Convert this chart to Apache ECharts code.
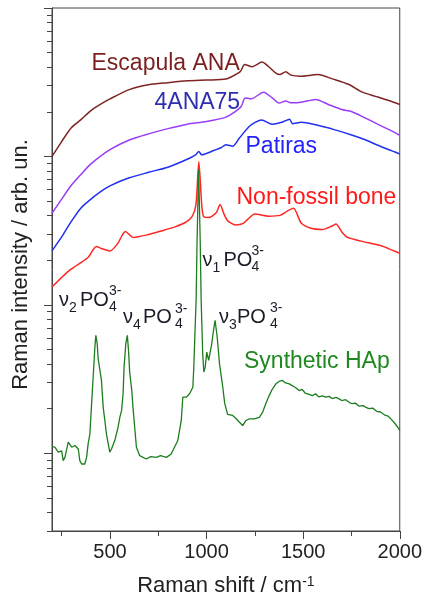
<!DOCTYPE html>
<html>
<head>
<meta charset="utf-8">
<script src="https://cdn.jsdelivr.net/npm/echarts@6/dist/echarts.min.js"></script>
<style>
  html, body { margin: 0; padding: 0; background: #fff; }
  #chart { width: 425px; height: 603px; }
</style>
</head>
<body>
<div id="chart"></div>
<script>
// Raman spectra, log intensity axis, curves offset by the original authors
const escapulaShift = [200, 250, 300, 350, 400, 450, 500, 600, 700, 800, 900, 1000, 1100, 1142, 1176, 1197, 1236, 1287, 1322, 1357, 1379, 1410, 1437, 1486, 1577, 1651, 1737, 1806, 1875, 1943, 2000]
const escapulaInt = [100, 126, 156, 177, 203, 224, 244, 282, 304, 314, 323, 327, 332, 351, 375, 417, 402, 432, 402, 366, 356, 372, 353, 347, 356, 333, 305, 271, 254, 238, 224]

const ana75Shift = [200, 250, 300, 350, 400, 500, 600, 700, 800, 900, 1000, 1100, 1150, 1180, 1200, 1230, 1295, 1340, 1375, 1410, 1435, 1490, 1565, 1630, 1700, 1750, 1820, 1890, 1960, 2000]
const ana75Int = [41.5, 51.6, 63.9, 75.7, 88.7, 111, 129, 142, 154, 165, 172, 184, 201, 218, 248, 244, 271, 248, 229, 236, 230, 232, 242, 224, 207, 201, 182, 164, 148, 139]

const patirasShift = [200, 250, 300, 350, 400, 450, 500, 600, 700, 800, 900, 945, 960, 975, 1040, 1075, 1100, 1135, 1170, 1225, 1285, 1340, 1390, 1430, 1445, 1490, 1560, 1665, 1755, 1825, 1880, 1960, 2000]
const patirasInt = [23.1, 28.7, 36.5, 45, 51.4, 57.7, 63.4, 71.8, 78.2, 84.7, 95.7, 103, 108, 102.6, 110, 114.5, 120, 117, 133, 161, 176, 165, 170, 178, 166, 170, 164, 151, 139, 129, 120, 109, 104]

const boneShift = [200, 293, 385, 430, 455, 500, 540, 580, 620, 700, 770, 840, 890, 925, 945, 960, 975, 985, 1010, 1050, 1070, 1090, 1110, 1150, 1190, 1250, 1320, 1380, 1420, 1450, 1490, 1540, 1600, 1650, 1670, 1700, 1730, 1800, 1900, 1960, 2000]
const boneInt = [13.2, 17.2, 20.8, 24.7, 24.0, 23.1, 25.9, 31.2, 28.5, 29.8, 31.6, 33.7, 35.9, 39.3, 47.2, 92.1, 47.2, 39.3, 38.8, 41.7, 47.5, 41.0, 36.8, 34.6, 35.4, 41.0, 39.6, 40.1, 43.0, 44.7, 35.6, 32.8, 32.2, 34.0, 35.1, 31.0, 28.5, 26.9, 25.1, 23.4, 22.3]

const hapShift = [200, 215, 232, 250, 258, 267, 284, 302, 319, 336, 344, 353, 370, 379, 387, 396, 404, 413, 422, 427, 434, 439, 448, 456, 465, 482, 499, 508, 525, 542, 551, 560, 568, 573, 582, 590, 596, 602, 607, 613, 619, 628, 637, 654, 688, 711, 740, 762, 792, 817, 834, 851, 869, 877, 895, 912, 929, 934, 941, 946, 951, 959, 967, 972, 980, 986, 993, 1001, 1011, 1019, 1027, 1036, 1044, 1055, 1067, 1075, 1084, 1094, 1109, 1135, 1154, 1170, 1187, 1203, 1221, 1247, 1273, 1290, 1307, 1324, 1340, 1359, 1375, 1393, 1405, 1415, 1428, 1445, 1460, 1479, 1495, 1510, 1530, 1548, 1565, 1580, 1600, 1617, 1635, 1650, 1670, 1686, 1700, 1720, 1740, 1754, 1770, 1790, 1810, 1825, 1840, 1860, 1880, 1900, 1915, 1926, 1940, 1955, 1970, 1978, 1990, 2000]
const hapInt = [1.11, 1.10, 1.02, 1.04, 0.893, 0.94, 1.19, 1.10, 1.13, 1.07, 0.893, 0.848, 0.848, 0.94, 1.16, 1.35, 2.05, 3.26, 5.20, 6.24, 5.48, 4.34, 4.23, 3.10, 2.05, 1.35, 1.02, 1.07, 1.22, 1.50, 1.75, 1.94, 2.52, 3.81, 5.48, 6.24, 4.94, 3.53, 3.62, 2.65, 2.05, 1.50, 1.10, 0.965, 0.916, 0.95, 0.94, 0.965, 0.94, 0.99, 1.10, 1.22, 1.66, 2.39, 2.39, 2.52, 2.79, 3.81, 7.10, 10.8, 27.4, 81.3, 27.4, 10.8, 4.70, 3.53, 3.81, 4.81, 4.23, 4.12, 5.48, 6.75, 7.88, 6.08, 4.02, 3.91, 2.79, 2.17, 1.83, 1.80, 1.71, 1.62, 1.54, 1.66, 1.71, 1.71, 1.75, 1.89, 2.17, 2.45, 2.70, 2.94, 3.05, 3.10, 3.00, 3.06, 2.94, 2.85, 2.78, 2.65, 2.70, 2.55, 2.50, 2.45, 2.52, 2.40, 2.44, 2.39, 2.42, 2.34, 2.38, 2.33, 2.27, 2.30, 2.20, 2.16, 2.18, 2.08, 2.10, 2.04, 2.00, 2.02, 1.92, 1.90, 1.84, 1.80, 1.78, 1.70, 1.62, 1.58, 1.50, 1.42]

const shiftMajorTicks = [500, 1000, 1500, 2000]
const shiftMinorTicks = [250, 750, 1250, 1750]
const intMajorTicks = [1, 10, 100, 1000]
const intMinorTicks = [0.3, 0.4, 0.5, 0.6, 0.7, 0.8, 0.9, 2, 3, 4, 5, 6, 7, 8, 9, 20, 30, 40, 50, 60, 70, 80, 90, 200, 300, 400, 500, 600, 700, 800, 900]

const FONT = '"Liberation Sans", Arial, sans-serif'
const ink = '#1c1c28'
const axisColor = '#444'

const zip = (xs, ys) => xs.map((x, i) => [x, ys[i]])

const chart = echarts.init(document.getElementById('chart'))

const txt = (x, y, text, size, fill) => ({
  type: 'text',
  x,
  y,
  style: {
    text,
    fill,
    font: size + 'px ' + FONT,
    align: 'left',
    verticalAlign: 'middle',
    textAlign: 'left',
    textVerticalAlign: 'middle'
  }
})

// ν_n PO4^3- labels: main glyphs, subscript, stacked sup/sub
const ionLabel = (x0, base, n, pOff, stackOff) => ({
  type: 'group',
  children: [
    txt(x0, base - 6, 'ν', 20, ink),
    txt(x0 + 10, base + 2, n, 14, ink),
    txt(x0 + pOff, base - 6, 'PO', 20, ink),
    txt(x0 + stackOff, base - 14.5, '3-', 14, ink),
    txt(x0 + stackOff, base + 1, '4', 14, ink)
  ]
})

const series = [
  { name: 'Escapula ANA', data: zip(escapulaShift, escapulaInt), color: '#7e2424' },
  { name: '4ANA75', data: zip(ana75Shift, ana75Int), color: '#9a3cf5' },
  { name: 'Patiras', data: zip(patirasShift, patirasInt), color: '#2030ee' },
  { name: 'Non-fossil bone', data: zip(boneShift, boneInt), color: '#ff2626' },
  { name: 'Synthetic HAp', data: zip(hapShift, hapInt), color: '#1d7d1d' }
].map(s => {
  const hap = s.name === 'Synthetic HAp'
  return {
    name: s.name,
    type: 'line',
    xAxisIndex: 0,
    yAxisIndex: 0,
    data: s.data,
    symbol: 'none',
    showSymbol: false,
    smooth: hap ? false : 0.25,
    lineStyle: { width: hap ? 1.3 : 1.5, color: s.color },
    itemStyle: { color: s.color }
  }
})

const option = {
  animation: false,
  textStyle: { fontFamily: FONT },
  grid: {
    left: 52,
    right: 24,
    top: 8,
    bottom: 72,
    show: true,
    borderColor: axisColor,
    borderWidth: 1
  },
  xAxis: [
    {
      type: 'value',
      min: 200,
      max: 2000,
      position: 'bottom',
      axisLine: { show: true, lineStyle: { color: axisColor } },
      axisTick: { show: true, length: 8, customValues: shiftMajorTicks, lineStyle: { color: axisColor } },
      axisLabel: {
        customValues: shiftMajorTicks,
        formatter: v => String(v),
        fontSize: 20,
        color: '#222',
        margin: 11
      },
      splitLine: { show: false },
      name: 'Raman shift / cm{sup|-1}',
      nameLocation: 'middle',
      nameGap: 44,
      nameTextStyle: {
        fontSize: 22,
        color: '#222',
        rich: { sup: { fontSize: 14, color: '#222', verticalAlign: 'top' } }
      }
    },
    {
      type: 'value',
      min: 200,
      max: 2000,
      position: 'bottom',
      axisLine: { show: false },
      axisTick: { show: true, length: 5, customValues: shiftMinorTicks, lineStyle: { color: axisColor } },
      axisLabel: { show: false },
      splitLine: { show: false }
    }
  ],
  yAxis: [
    {
      type: 'log',
      logBase: 10,
      min: 0.3,
      max: 1000,
      position: 'left',
      axisLine: { show: true, lineStyle: { color: axisColor } },
      axisTick: { show: true, length: 8, customValues: intMajorTicks, lineStyle: { color: axisColor } },
      axisLabel: { show: false },
      splitLine: { show: false },
      name: 'Raman intensity / arb. un.',
      nameLocation: 'middle',
      nameGap: 20,
      nameTextStyle: { fontSize: 22, color: '#222', padding: [0, 0, 0, 10] }
    },
    {
      type: 'log',
      logBase: 10,
      min: 0.3,
      max: 1000,
      position: 'left',
      axisLine: { show: false },
      axisTick: { show: true, length: 5, customValues: intMinorTicks, lineStyle: { color: axisColor } },
      axisLabel: { show: false },
      splitLine: { show: false }
    }
  ],
  graphic: [
    txt(91.5, 63.6, 'Escapula ANA', 23, '#7b1f1f'),
    txt(154.5, 102.2, '4ANA75', 23, '#2e2eb0'),
    txt(245.5, 146.2, 'Patiras', 23, '#2222ff'),
    txt(236.5, 197.9, 'Non-fossil bone', 23, '#ff1a1a'),
    txt(244, 361.2, 'Synthetic HAp', 23, '#1f881f'),
    ionLabel(59, 306, '2', 21, 50),
    ionLabel(123, 323.5, '4', 20, 52),
    ionLabel(202.5, 266, '1', 21, 49),
    ionLabel(219, 323, '3', 18, 51)
  ],
  series
}

chart.setOption(option)
</script>
</body>
</html>
